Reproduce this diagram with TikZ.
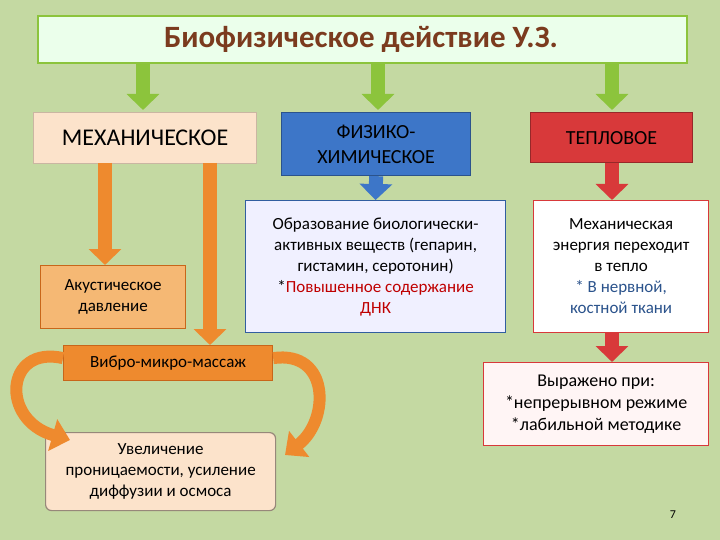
\documentclass[tikz,border=0pt]{standalone}
\usepackage{fontspec}
\setmainfont{Carlito}
\usetikzlibrary{arrows.meta}
\definecolor{bg}{HTML}{C4D9A2}
\definecolor{gfill}{HTML}{8CC43C}
\definecolor{gdark}{HTML}{5E9A2A}
\definecolor{ora}{HTML}{EE8A2E}
\definecolor{orad}{HTML}{C8661A}
\definecolor{peach}{HTML}{FCE3CB}
\definecolor{tan}{HTML}{F5B874}
\definecolor{blu}{HTML}{3D76C8}
\definecolor{redd}{HTML}{D8393A}
\definecolor{titlec}{HTML}{7B3B1E}
\tikzset{
 box/.style={draw=#1,line width=1.2pt,align=center,inner sep=2pt},
 fat/.style={#1,line width=14pt,-{Triangle[length=16pt,width=32pt]}},
 txt/.style={font=\fontsize{17}{21}\selectfont},
}
\begin{document}
\begin{tikzpicture}[x=1pt,y=-1pt]
\fill[bg] (0,0) rectangle (720,540);
\useasboundingbox (0,0) rectangle (720,540);
% title
\node[box=gfill,fill=green!8!white,minimum width=649pt,minimum height=47pt,anchor=north west,line width=2pt] (title) at (37,15) {};
\node[text=titlec,font=\fontsize{31}{34}\selectfont\bfseries] (tt) at (361,39) {Биофизическое действие У.З.};
% top boxes
\node[box=peach!80!black,fill=peach,minimum width=223pt,minimum height=51pt,anchor=north west,font=\fontsize{24}{26}\selectfont] (mech) at (33,112) {МЕХАНИЧЕСКОЕ};
\node[box=blu!70!black,fill=blu,text width=185pt,minimum height=63pt,anchor=north west,font=\fontsize{20}{25}\selectfont] (phys) at (281,112) {\centering ФИЗИКО-\\ХИМИЧЕСКОЕ\par};
\node[box=redd!70!black,fill=redd,minimum width=162pt,minimum height=50pt,anchor=north west,font=\fontsize{20}{24}\selectfont] (heat) at (530,112) {ТЕПЛОВОЕ};
% green arrows
\coordinate (g1s) at (143,64);\coordinate (g2s) at (378,64);\coordinate (g3s) at (612,64);
\draw[fat=gfill] (g1s) -- (143,110);
\draw[fat=gfill] (g2s) -- (378,110);
\draw[fat=gfill] (g3s) -- (612,110);
% middle boxes
\node[box=orad,fill=tan,minimum width=145pt,minimum height=63pt,anchor=north west,txt] (acu) at (40,265) {Акустическое\\давление};
\node[box=blu!80!black,fill=blue!6!white,minimum width=260pt,minimum height=132pt,anchor=north west,txt] (obr) at (245,200) {Образование биологически-\\активных веществ (гепарин,\\гистамин, серотонин)\\*\textcolor{red!75!black}{Повышенное содержание}\\\textcolor{red!75!black}{ДНК}};
\node[box=redd,fill=white,minimum width=175pt,minimum height=132pt,anchor=north west,txt] (mex) at (533,200) {Механическая\\энергия переходит\\в тепло\\\textcolor{blu!70!black}{* В нервной,}\\\textcolor{blu!70!black}{костной ткани}};
\node[box=orad,fill=ora,minimum width=209pt,minimum height=35pt,anchor=north west,txt] (vib) at (63,345) {Вибро-микро-массаж};
\node[box=redd,fill=red!4!white,minimum width=225pt,minimum height=83pt,anchor=north west,font=\fontsize{18}{22}\selectfont] (vyr) at (483,362) {Выражено при:\\*непрерывном режиме\\*лабильной методике};
\node[box=peach!60!black,fill=peach,rounded corners=6pt,minimum width=230pt,minimum height=78pt,anchor=north west,txt] (uvel) at (45,432) {Увеличение\\проницаемости, усиление\\диффузии и осмоса};
% arrows
\draw[fat=blu] (phys.south) -- (obr.north);
\draw[fat=redd] (heat.south -| 612,0) -- (mex.north -| 612,0);
\draw[fat=redd] (mex.south -| 612,0) -- (vyr.north -| 612,0);
\draw[fat=ora] (105,163) -- (acu.north -| 105,0);
\draw[fat=ora] (210,163) -- (vib.north -| 210,0);
\draw[ora,line width=12pt,-{Triangle[length=18pt,width=32pt]}] (vib.west) ++(0,-5) .. controls (5,345) and (0,420) .. (70,440);
\draw[ora,line width=12pt,-{Triangle[length=18pt,width=32pt]}] (vib.east) ++(0,-5) .. controls (330,350) and (330,420) .. (285,455);
\node[font=\fontsize{12}{13}\selectfont] (pg) at (673,515) {7};
\end{tikzpicture}
\end{document}
